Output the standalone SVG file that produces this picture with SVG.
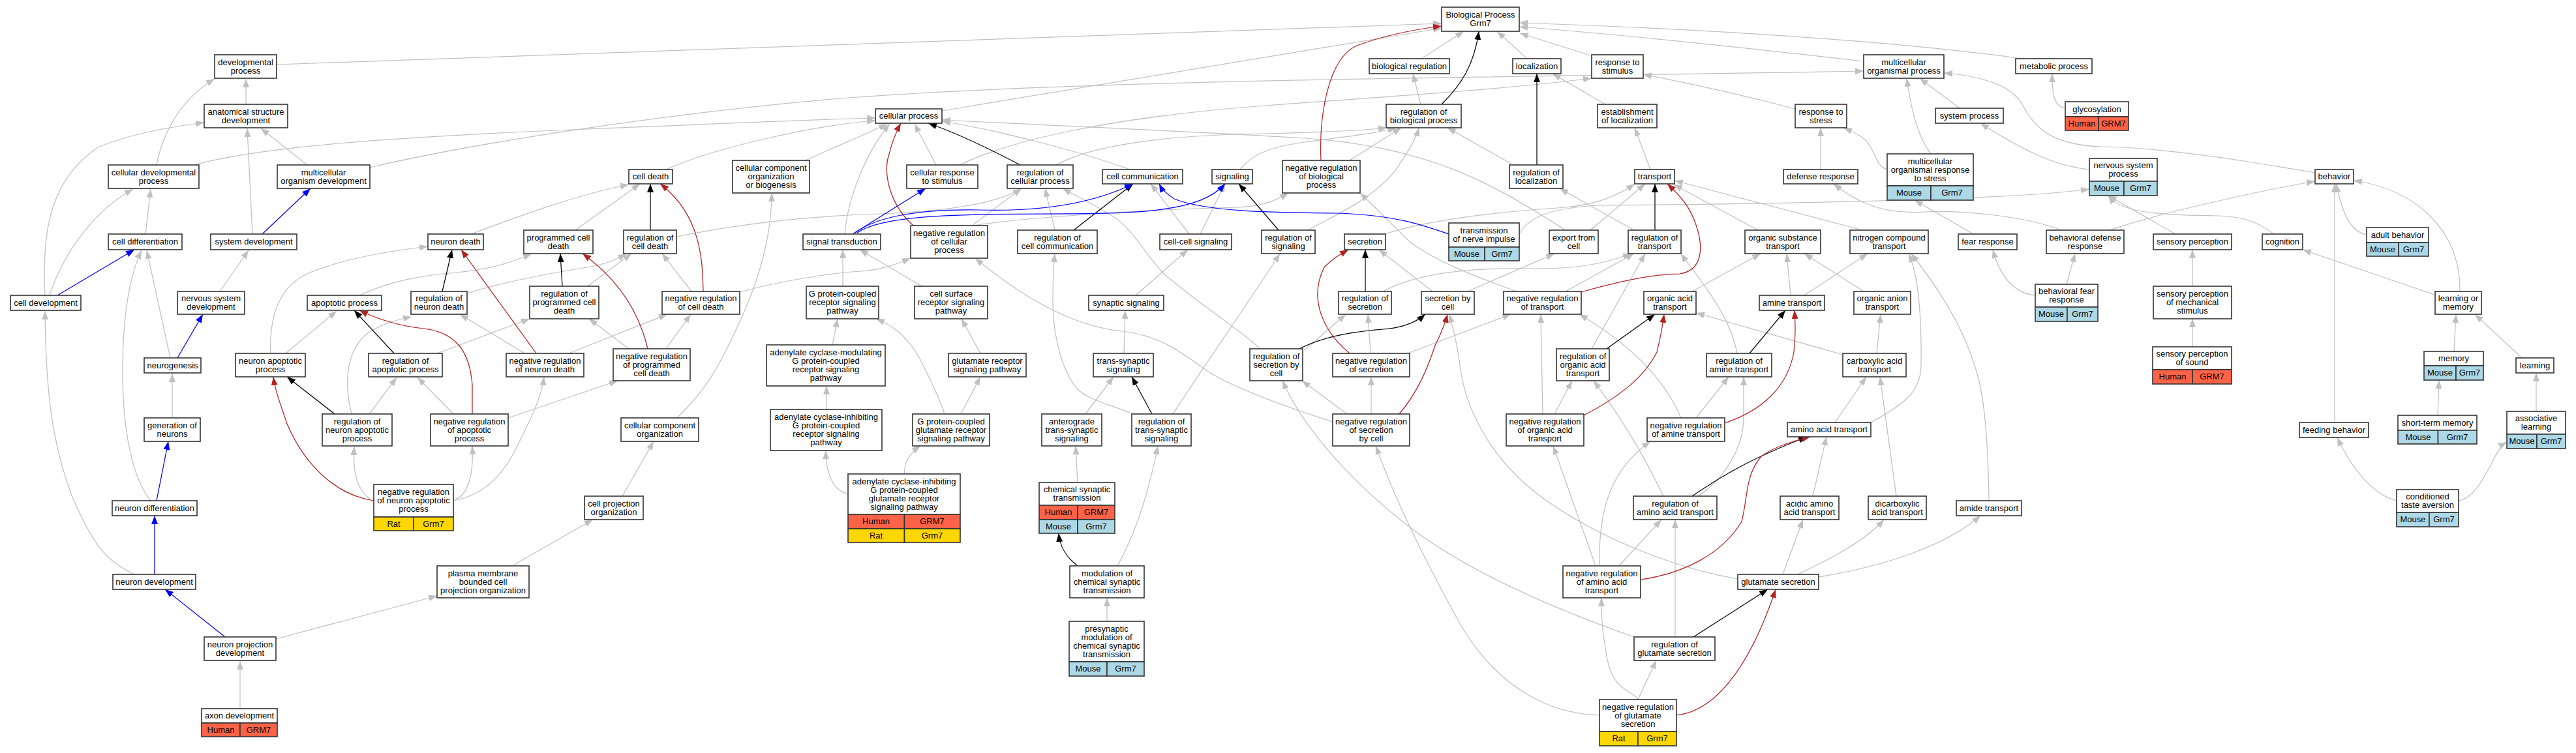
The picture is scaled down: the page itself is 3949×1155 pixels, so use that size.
<svg xmlns="http://www.w3.org/2000/svg" width="3949" height="1155" viewBox="0 0 3949 1155">
<defs>
<style>
.n rect{fill:#fff;stroke:#333;stroke-width:1.6}
.n rect.hu{fill:#ff6347}
.n rect.ra{fill:#ffd700}
.n rect.mo{fill:#add8e6}
text{font-family:"Liberation Sans",Arial,sans-serif;font-size:13px;text-anchor:middle;fill:#000}
.e{fill:none;stroke-width:1.25}
.g{stroke:#c0c0c0;marker-end:url(#ag)}
.k{stroke:#000;marker-end:url(#ak)}
.r{stroke:#b22222;marker-end:url(#ar)}
.b{stroke:#0000ff;marker-end:url(#ab)}
</style>
<marker id="ag" markerUnits="userSpaceOnUse" markerWidth="14" markerHeight="11" viewBox="0 0 14 11" refX="13" refY="5.5" orient="auto"><path d="M0,0.5 L13,5.5 L0,10.5 z" fill="#c0c0c0"/></marker>
<marker id="ak" markerUnits="userSpaceOnUse" markerWidth="14" markerHeight="11" viewBox="0 0 14 11" refX="13" refY="5.5" orient="auto"><path d="M0,0.5 L13,5.5 L0,10.5 z" fill="#000"/></marker>
<marker id="ar" markerUnits="userSpaceOnUse" markerWidth="14" markerHeight="11" viewBox="0 0 14 11" refX="13" refY="5.5" orient="auto"><path d="M0,0.5 L13,5.5 L0,10.5 z" fill="#b22222"/></marker>
<marker id="ab" markerUnits="userSpaceOnUse" markerWidth="14" markerHeight="11" viewBox="0 0 14 11" refX="13" refY="5.5" orient="auto"><path d="M0,0.5 L13,5.5 L0,10.5 z" fill="#0000ff"/></marker>
</defs>
<rect x="0" y="0" width="3949" height="1155" fill="#fff"/>
<g id="edges">
<path class="e g" d="M424,99 L2210,36"/>
<path class="e g" d="M1444,170 L2210,43"/>
<path class="e g" d="M2179,90 L2244,48"/>
<path class="e g" d="M2341,90 L2295,48"/>
<path class="e g" d="M2438,85 L2330,51"/>
<path class="e g" d="M3100,90 C2900,62 2600,44 2329,35"/>
<path class="e g" d="M2857,94 C2700,76 2500,54 2329,41"/>
<path class="e g" d="M2178,160 L2166,113"/>
<path class="e g" d="M2069,246 L2148,196"/>
<path class="e g" d="M2320,253 L2219,196"/>
<path class="e g" d="M2461,160 L2380,113"/>
<path class="e g" d="M2530,260 L2506,196"/>
<path class="e g" d="M2752,167 C2650,140 2560,122 2519,114"/>
<path class="e g" d="M567,257 C700,225 1000,175 1300,150 C1700,120 2400,118 2857,109"/>
<path class="e g" d="M297,253 C400,225 600,210 900,198 C1100,190 1250,183 1342,181"/>
<path class="e g" d="M1021,260 C1100,225 1250,192 1342,185"/>
<path class="e g" d="M1235,246 C1280,225 1330,205 1360,190"/>
<path class="e g" d="M1435,253 L1402,190"/>
<path class="e g" d="M1732,260 C1650,230 1520,198 1444,186"/>
<path class="e g" d="M1295,359 C1300,300 1330,230 1364,190"/>
<path class="e g" d="M2400,353 C2300,290 2200,225 2000,212 C1800,200 1600,192 1444,184"/>
<path class="e g" d="M240,253 C250,200 280,150 329,121"/>
<path class="e g" d="M377,160 L377,121"/>
<path class="e g" d="M471,253 L400,197"/>
<path class="e g" d="M387,359 L379,197"/>
<path class="e g" d="M223,359 L231,290"/>
<path class="e g" d="M76,453 C100,380 150,320 204,290"/>
<path class="e g" d="M69,453 C65,370 70,280 150,226 C200,205 260,195 313,188"/>
<path class="e g" d="M337,447 L381,384"/>
<path class="e g" d="M261,549 L225,384"/>
<path class="e g" d="M231,768 C200,730 188,650 188,570 C188,480 200,420 217,384"/>
<path class="e g" d="M264,641 L264,573"/>
<path class="e g" d="M206,881 C160,860 140,830 110,760 C80,680 70,600 69,477"/>
<path class="e g" d="M423,980 L670,914"/>
<path class="e g" d="M368,1087 L368,1014"/>
<path class="e g" d="M438,542 L516,477"/>
<path class="e g" d="M566,635 L608,579"/>
<path class="e g" d="M695,635 L640,579"/>
<path class="e g" d="M539,635 C530,600 525,540 565,510 C590,495 610,490 631,486"/>
<path class="e g" d="M568,766 C545,750 541,720 543,685"/>
<path class="e g" d="M415,542 C412,480 430,440 470,420 C530,395 600,385 656,378"/>
<path class="e g" d="M551,453 C600,430 650,422 700,418 C760,412 790,400 815,389"/>
<path class="e g" d="M716,450 C780,430 850,418 900,410 C930,405 945,398 960,389"/>
<path class="e g" d="M901,439 L968,389"/>
<path class="e g" d="M1060,447 L1015,389"/>
<path class="e g" d="M722,359 C800,330 880,300 964,283"/>
<path class="e g" d="M882,353 L981,282"/>
<path class="e g" d="M804,542 L705,482"/>
<path class="e g" d="M872,542 L1023,482"/>
<path class="e g" d="M964,535 L903,489"/>
<path class="e g" d="M1021,535 L1059,482"/>
<path class="e g" d="M670,542 L812,489"/>
<path class="e g" d="M779,641 L947,584"/>
<path class="e g" d="M695,768 C740,760 770,730 790,690 C815,640 830,610 834,578"/>
<path class="e g" d="M697,766 C720,760 726,720 724,684"/>
<path class="e g" d="M1038,641 C1080,600 1100,570 1140,480 C1175,400 1183,340 1183,296"/>
<path class="e g" d="M954,761 L1002,677"/>
<path class="e g" d="M785,868 L909,797"/>
<path class="e g" d="M1267,628 L1267,592"/>
<path class="e g" d="M1300,757 C1280,755 1266,730 1266,691"/>
<path class="e g" d="M1387,727 C1385,710 1395,695 1411,684"/>
<path class="e g" d="M1473,635 L1503,578"/>
<path class="e g" d="M1448,635 C1440,610 1425,580 1410,550 C1390,515 1370,500 1343,489"/>
<path class="e g" d="M1503,542 L1474,489"/>
<path class="e g" d="M1276,529 L1284,489"/>
<path class="e g" d="M1292,439 L1292,383"/>
<path class="e g" d="M1413,439 L1318,383"/>
<path class="e g" d="M1134,448 C1200,430 1280,418 1320,416 C1350,414 1370,407 1396,396"/>
<path class="e g" d="M1037,363 C1150,340 1250,331 1350,328 C1450,324 1530,312 1566,289"/>
<path class="e g" d="M1490,346 L1566,289"/>
<path class="e g" d="M1617,353 L1602,289"/>
<path class="e g" d="M1471,253 C1550,215 1700,180 1940,162 C2100,150 2300,138 2440,120"/>
<path class="e g" d="M1619,253 C1680,220 1800,207 1940,205 C2030,203 2090,200 2126,196"/>
<path class="e g" d="M1901,260 C1920,235 1950,225 2000,218 C2060,210 2110,205 2140,196"/>
<path class="e g" d="M2004,353 C2050,330 2110,300 2140,260 C2160,230 2170,215 2175,196"/>
<path class="e g" d="M1823,359 L1764,282"/>
<path class="e g" d="M1840,359 L1878,282"/>
<path class="e g" d="M1741,453 L1821,383"/>
<path class="e g" d="M1723,542 L1725,476"/>
<path class="e g" d="M1664,635 L1707,578"/>
<path class="e g" d="M1735,634 C1700,620 1665,612 1650,595 C1630,570 1614,520 1614,460 C1614,430 1615,410 1617,389"/>
<path class="e g" d="M1798,635 C1850,555 1930,440 1962,389"/>
<path class="e g" d="M1652,740 L1649,684"/>
<path class="e g" d="M1713,868 C1740,820 1760,760 1775,684"/>
<path class="e g" d="M1697,953 L1697,917"/>
<path class="e g" d="M2043,647 C1990,630 1900,600 1852,570 C1810,540 1780,515 1720,508 C1640,500 1560,450 1495,396"/>
<path class="e g" d="M1490,346 C1600,330 1800,320 1900,318 C1940,316 1960,305 1975,296"/>
<path class="e g" d="M2325,447 C2250,420 2200,400 2160,370 C2130,340 2110,320 2085,296"/>
<path class="e g" d="M2120,447 C2170,420 2250,410 2350,412 C2430,413 2470,400 2501,389"/>
<path class="e g" d="M2400,447 L2505,389"/>
<path class="e g" d="M2505,353 L2391,289"/>
<path class="e g" d="M2438,353 L2522,282"/>
<path class="e g" d="M2122,359 C2200,335 2300,325 2400,318 C2450,313 2480,300 2506,282"/>
<path class="e g" d="M2196,447 L2114,383"/>
<path class="e g" d="M2250,447 L2383,389"/>
<path class="e g" d="M2101,542 L2097,482"/>
<path class="e g" d="M2158,542 L2316,482"/>
<path class="e g" d="M2000,537 L2063,482"/>
<path class="e g" d="M2102,635 L2102,578"/>
<path class="e g" d="M2065,635 L1996,584"/>
<path class="e g" d="M2452,1097 C2380,1095 2300,1060 2240,960 C2190,870 2140,770 2109,684"/>
<path class="e g" d="M2505,977 C2400,940 2250,880 2150,800 C2050,720 1990,640 1966,584"/>
<path class="e g" d="M2664,888 C2560,870 2440,820 2360,760 C2280,700 2245,620 2238,560 C2233,520 2226,500 2222,482"/>
<path class="e g" d="M2383,635 L2410,584"/>
<path class="e g" d="M2365,635 L2362,482"/>
<path class="e g" d="M2577,641 C2560,600 2520,540 2421,482"/>
<path class="e g" d="M2600,641 L2650,578"/>
<path class="e g" d="M2440,535 L2522,389"/>
<path class="e g" d="M2550,761 C2530,720 2500,660 2443,584"/>
<path class="e g" d="M2603,761 C2650,730 2673,680 2673,640 C2673,610 2673,595 2673,578"/>
<path class="e g" d="M2446,868 L2381,684"/>
<path class="e g" d="M2452,868 C2450,780 2470,720 2530,677"/>
<path class="e g" d="M2482,868 L2547,797"/>
<path class="e g" d="M2511,1073 L2539,1013"/>
<path class="e g" d="M2511,1072 C2500,1058 2470,1060 2462,1000 C2455,960 2455,940 2455,917"/>
<path class="e g" d="M2568,977 L2568,797"/>
<path class="e g" d="M2663,542 C2655,500 2630,460 2600,420 C2590,407 2583,398 2577,389"/>
<path class="e g" d="M2594,447 L2699,389"/>
<path class="e g" d="M2745,453 L2739,389"/>
<path class="e g" d="M2766,453 L2863,389"/>
<path class="e g" d="M2857,447 L2766,389"/>
<path class="e g" d="M2877,542 L2883,482"/>
<path class="e g" d="M2825,544 L2600,480"/>
<path class="e g" d="M2813,648 L2861,578"/>
<path class="e g" d="M2868,648 C2920,620 2945,600 2945,560 C2946,480 2940,420 2926,389"/>
<path class="e g" d="M2907,761 L2882,578"/>
<path class="e g" d="M3049,768 C3048,700 3045,620 3030,570 C3010,500 2970,440 2930,389"/>
<path class="e g" d="M2779,761 L2800,670"/>
<path class="e g" d="M2733,881 L2764,797"/>
<path class="e g" d="M2756,881 C2800,860 2860,830 2888,797"/>
<path class="e g" d="M2788,885 C2880,870 2980,840 3036,791"/>
<path class="e g" d="M2695,353 L2566,283"/>
<path class="e g" d="M2855,353 L2567,277"/>
<path class="e g" d="M2893,260 C2875,255 2875,230 2860,215 C2850,206 2838,201 2826,196"/>
<path class="e g" d="M2960,236 C2940,210 2930,170 2923,120"/>
<path class="e g" d="M3004,166 L2943,120"/>
<path class="e g" d="M2791,260 L2791,196"/>
<path class="e g" d="M3025,359 L2935,307"/>
<path class="e g" d="M3160,353 C3100,330 3000,322 2950,325 C2880,330 2840,305 2811,282"/>
<path class="e g" d="M3120,453 C3085,450 3065,420 3055,383"/>
<path class="e g" d="M3168,436 L3181,389"/>
<path class="e g" d="M3166,166 C3150,163 3146,150 3146,113"/>
<path class="e g" d="M3203,260 C3150,255 3100,230 3036,189"/>
<path class="e g" d="M2329,359 C2340,340 2360,320 2450,315 C2800,312 3100,305 3203,290"/>
<path class="e g" d="M3549,265 C3450,248 3320,226 3220,225 C3150,222 3120,200 3100,160 C3080,125 3020,115 2980,112"/>
<path class="e g" d="M3335,359 L3232,300"/>
<path class="e g" d="M3486,359 C3460,340 3440,332 3400,331 C3300,330 3250,325 3232,300"/>
<path class="e g" d="M3732,452 L3530,383"/>
<path class="e g" d="M3771,447 C3772,350 3700,290 3608,277"/>
<path class="e g" d="M3628,360 C3600,355 3590,320 3581,282"/>
<path class="e g" d="M3234,353 C3300,330 3450,295 3549,278"/>
<path class="e g" d="M3579,648 L3579,282"/>
<path class="e g" d="M3762,539 L3765,482"/>
<path class="e g" d="M3866,549 L3794,482"/>
<path class="e g" d="M3737,637 L3739,583"/>
<path class="e g" d="M3888,631 L3888,572"/>
<path class="e g" d="M3769,768 C3790,765 3805,740 3825,700 C3832,688 3836,682 3843,678"/>
<path class="e g" d="M3674,768 C3640,760 3605,720 3583,671"/>
<path class="e g" d="M3361,532 L3361,489"/>
<path class="e g" d="M3361,439 L3361,383"/>
<path class="e g" d="M1932,535 C1900,505 1850,475 1790,425 C1760,400 1740,350 1700,328 C1670,310 1645,298 1629,289"/>
<path class="e k" d="M2210,160 C2240,130 2260,100 2267,48"/>
<path class="e k" d="M2356,253 L2356,113"/>
<path class="e k" d="M1564,253 C1520,230 1470,205 1423,189"/>
<path class="e k" d="M1646,353 L1737,282"/>
<path class="e k" d="M1960,353 L1899,282"/>
<path class="e k" d="M2537,353 L2537,282"/>
<path class="e k" d="M2093,447 L2093,383"/>
<path class="e k" d="M1992,535 C2030,515 2080,508 2120,505 C2150,503 2170,495 2185,482"/>
<path class="e k" d="M2463,535 L2537,482"/>
<path class="e k" d="M2682,542 L2737,476"/>
<path class="e k" d="M2594,761 C2640,730 2680,705 2770,670"/>
<path class="e k" d="M2596,977 L2710,904"/>
<path class="e k" d="M997,353 L997,282"/>
<path class="e k" d="M862,439 L859,389"/>
<path class="e k" d="M678,447 L693,383"/>
<path class="e k" d="M604,542 L543,476"/>
<path class="e k" d="M513,635 L440,578"/>
<path class="e k" d="M1766,635 L1735,578"/>
<path class="e k" d="M1652,868 C1635,855 1625,840 1623,818"/>
<path class="e r" d="M2025,246 C2022,180 2035,90 2080,70 C2120,55 2170,45 2210,40"/>
<path class="e r" d="M1400,346 C1360,310 1355,260 1362,240 C1368,215 1375,200 1381,189"/>
<path class="e r" d="M1078,447 C1077,400 1075,330 1012,282"/>
<path class="e r" d="M993,535 C980,480 950,430 893,389"/>
<path class="e r" d="M822,542 L707,383"/>
<path class="e r" d="M724,635 L724,590 C720,540 700,510 650,504 C610,500 580,490 551,476"/>
<path class="e r" d="M573,768 C520,760 470,720 440,650 C430,620 422,600 419,578"/>
<path class="e r" d="M2069,542 C2030,510 2005,460 2030,410 C2045,395 2055,390 2067,383"/>
<path class="e r" d="M2145,635 C2175,600 2190,560 2200,530 C2210,510 2215,497 2219,482"/>
<path class="e r" d="M2424,448 C2470,435 2530,420 2575,420 C2610,415 2612,380 2600,345 C2590,315 2575,300 2556,282"/>
<path class="e r" d="M2428,637 C2480,610 2520,580 2540,540 C2545,520 2548,505 2551,482"/>
<path class="e r" d="M2644,649 C2700,630 2740,595 2750,540 C2753,510 2752,495 2751,476"/>
<path class="e r" d="M2515,889 C2580,880 2640,850 2670,800 C2680,760 2675,730 2700,700 C2720,685 2750,676 2775,670"/>
<path class="e r" d="M2570,1097 C2640,1090 2690,1000 2722,904"/>
<path class="e b" d="M88,453 L206,383"/>
<path class="e b" d="M402,359 L476,289"/>
<path class="e b" d="M272,549 L311,482"/>
<path class="e b" d="M240,768 L258,677"/>
<path class="e b" d="M237,881 L237,791"/>
<path class="e b" d="M345,977 L253,904"/>
<path class="e b" d="M1307,359 L1419,289"/>
<path class="e b" d="M1311,357 C1340,335 1400,320 1500,322 C1600,325 1680,310 1737,282"/>
<path class="e b" d="M1314,357 C1350,332 1450,328 1600,328 C1750,328 1840,325 1878,282"/>
<path class="e b" d="M2221,359 C2180,345 2140,330 2050,327 C1950,326 1850,325 1800,305 C1790,298 1782,292 1777,282"/>
</g>
<g id="n-bp" class="n"><rect x="2210" y="11" width="119" height="37"/><text x="2269.5" y="27">Biological Process</text><text x="2269.5" y="40">Grm7</text></g>
<g id="n-devproc" class="n"><rect x="329" y="84" width="95" height="36"/><text x="376.5" y="99.5">developmental</text><text x="376.5" y="112.5">process</text></g>
<g id="n-asd" class="n"><rect x="313" y="160" width="128" height="36"/><text x="377" y="175.5">anatomical structure</text><text x="377" y="188.5">development</text></g>
<g id="n-cdp" class="n"><rect x="166" y="253" width="139" height="36"/><text x="235.5" y="268.5">cellular developmental</text><text x="235.5" y="281.5">process</text></g>
<g id="n-mod" class="n"><rect x="425" y="253" width="142" height="36"/><text x="496" y="268.5">multicellular</text><text x="496" y="281.5">organism development</text></g>
<g id="n-celldiff" class="n"><rect x="166" y="359" width="113" height="24"/><text x="222.5" y="375">cell differentiation</text></g>
<g id="n-sysdev" class="n"><rect x="323" y="359" width="132" height="24"/><text x="389" y="375">system development</text></g>
<g id="n-celldev" class="n"><rect x="16" y="453" width="108" height="23"/><text x="70" y="468.5">cell development</text></g>
<g id="n-nsd" class="n"><rect x="272" y="447" width="103" height="35"/><text x="323.5" y="462">nervous system</text><text x="323.5" y="475">development</text></g>
<g id="n-apop" class="n"><rect x="471" y="453" width="114" height="23"/><text x="528" y="468.5">apoptotic process</text></g>
<g id="n-regnd" class="n"><rect x="630" y="447" width="86" height="35"/><text x="673" y="462">regulation of</text><text x="673" y="475">neuron death</text></g>
<g id="n-neurogenesis" class="n"><rect x="221" y="549" width="87" height="23"/><text x="264.5" y="564.5">neurogenesis</text></g>
<g id="n-nap" class="n"><rect x="361" y="542" width="107" height="36"/><text x="414.5" y="557.5">neuron apoptotic</text><text x="414.5" y="570.5">process</text></g>
<g id="n-regap" class="n"><rect x="565" y="542" width="113" height="36"/><text x="621.5" y="557.5">regulation of</text><text x="621.5" y="570.5">apoptotic process</text></g>
<g id="n-genneur" class="n"><rect x="221" y="641" width="86" height="36"/><text x="264" y="656.5">generation of</text><text x="264" y="669.5">neurons</text></g>
<g id="n-regnap" class="n"><rect x="494" y="635" width="107" height="49"/><text x="547.5" y="650.5">regulation of</text><text x="547.5" y="663.5">neuron apoptotic</text><text x="547.5" y="676.5">process</text></g>
<g id="n-negregnap" class="n"><rect x="573" y="743" width="122" height="50"/><text x="634" y="759">negative regulation</text><text x="634" y="772">of neuron apoptotic</text><text x="634" y="785">process</text><rect class="ra" x="573" y="793" width="61" height="21"/><rect class="ra" x="634" y="793" width="61" height="21"/><text x="603.5" y="807.5">Rat</text><text x="664.5" y="807.5">Grm7</text></g>
<g id="n-neurdiff" class="n"><rect x="172" y="768" width="130" height="23"/><text x="237" y="783.5">neuron differentiation</text></g>
<g id="n-neurdev" class="n"><rect x="173" y="881" width="127" height="23"/><text x="236.5" y="896.5">neuron development</text></g>
<g id="n-npd" class="n"><rect x="313" y="977" width="110" height="36"/><text x="368" y="992.5">neuron projection</text><text x="368" y="1005.5">development</text></g>
<g id="n-axon" class="n"><rect x="309" y="1087" width="116" height="22"/><text x="367" y="1102">axon development</text><rect class="hu" x="309" y="1109" width="59" height="21"/><rect class="hu" x="368" y="1109" width="57" height="21"/><text x="338.5" y="1123.5">Human</text><text x="396.5" y="1123.5">GRM7</text></g>
<g id="n-celldeath" class="n"><rect x="964" y="260" width="67" height="22"/><text x="997.5" y="275">cell death</text></g>
<g id="n-ccob" class="n"><rect x="1123" y="246" width="118" height="50"/><text x="1182" y="262">cellular component</text><text x="1182" y="275">organization</text><text x="1182" y="288">or biogenesis</text></g>
<g id="n-neurdeath" class="n"><rect x="656" y="359" width="85" height="24"/><text x="698.5" y="375">neuron death</text></g>
<g id="n-pcd" class="n"><rect x="803" y="353" width="106" height="36"/><text x="856" y="368.5">programmed cell</text><text x="856" y="381.5">death</text></g>
<g id="n-regcd" class="n"><rect x="956" y="353" width="81" height="36"/><text x="996.5" y="368.5">regulation of</text><text x="996.5" y="381.5">cell death</text></g>
<g id="n-sigtrans" class="n"><rect x="1231" y="359" width="119" height="24"/><text x="1290.5" y="375">signal transduction</text></g>
<g id="n-regpcd" class="n"><rect x="812" y="439" width="106" height="50"/><text x="865" y="455">regulation of</text><text x="865" y="468">programmed cell</text><text x="865" y="481">death</text></g>
<g id="n-negregcd" class="n"><rect x="1015" y="447" width="119" height="35"/><text x="1074.5" y="462">negative regulation</text><text x="1074.5" y="475">of cell death</text></g>
<g id="n-gpcr" class="n"><rect x="1236" y="439" width="111" height="50"/><text x="1291.5" y="455">G protein-coupled</text><text x="1291.5" y="468">receptor signaling</text><text x="1291.5" y="481">pathway</text></g>
<g id="n-negregap" class="n"><rect x="660" y="635" width="119" height="49"/><text x="719.5" y="650.5">negative regulation</text><text x="719.5" y="663.5">of apoptotic</text><text x="719.5" y="676.5">process</text></g>
<g id="n-negregnd" class="n"><rect x="776" y="542" width="119" height="36"/><text x="835.5" y="557.5">negative regulation</text><text x="835.5" y="570.5">of neuron death</text></g>
<g id="n-negregpcd" class="n"><rect x="940" y="535" width="118" height="49"/><text x="999" y="550.5">negative regulation</text><text x="999" y="563.5">of programmed</text><text x="999" y="576.5">cell death</text></g>
<g id="n-acm" class="n"><rect x="1175" y="529" width="182" height="63"/><text x="1266" y="545">adenylate cyclase-modulating</text><text x="1266" y="558">G protein-coupled</text><text x="1266" y="571">receptor signaling</text><text x="1266" y="584">pathway</text></g>
<g id="n-cco" class="n"><rect x="952" y="641" width="119" height="36"/><text x="1011.5" y="656.5">cellular component</text><text x="1011.5" y="669.5">organization</text></g>
<g id="n-cpo" class="n"><rect x="896" y="761" width="90" height="36"/><text x="941" y="776.5">cell projection</text><text x="941" y="789.5">organization</text></g>
<g id="n-pmbcpo" class="n"><rect x="670" y="868" width="141" height="49"/><text x="740.5" y="883.5">plasma membrane</text><text x="740.5" y="896.5">bounded cell</text><text x="740.5" y="909.5">projection organization</text></g>
<g id="n-aci" class="n"><rect x="1181" y="628" width="171" height="63"/><text x="1266.5" y="644">adenylate cyclase-inhibiting</text><text x="1266.5" y="657">G protein-coupled</text><text x="1266.5" y="670">receptor signaling</text><text x="1266.5" y="683">pathway</text></g>
<g id="n-cellproc" class="n"><rect x="1342" y="167" width="102" height="22"/><text x="1393" y="182">cellular process</text></g>
<g id="n-crs" class="n"><rect x="1390" y="253" width="109" height="36"/><text x="1444.5" y="268.5">cellular response</text><text x="1444.5" y="281.5">to stimulus</text></g>
<g id="n-regcp" class="n"><rect x="1544" y="253" width="101" height="36"/><text x="1594.5" y="268.5">regulation of</text><text x="1594.5" y="281.5">cellular process</text></g>
<g id="n-cellcomm" class="n"><rect x="1690" y="260" width="123" height="22"/><text x="1751.5" y="275">cell communication</text></g>
<g id="n-signaling" class="n"><rect x="1858" y="260" width="62" height="22"/><text x="1889" y="275">signaling</text></g>
<g id="n-negregcp" class="n"><rect x="1396" y="346" width="118" height="50"/><text x="1455" y="362">negative regulation</text><text x="1455" y="375">of cellular</text><text x="1455" y="388">process</text></g>
<g id="n-regcc" class="n"><rect x="1560" y="353" width="122" height="36"/><text x="1621" y="368.5">regulation of</text><text x="1621" y="381.5">cell communication</text></g>
<g id="n-ccsig" class="n"><rect x="1778" y="359" width="110" height="24"/><text x="1833" y="375">cell-cell signaling</text></g>
<g id="n-regsig" class="n"><rect x="1934" y="353" width="82" height="36"/><text x="1975" y="368.5">regulation of</text><text x="1975" y="381.5">signaling</text></g>
<g id="n-csrsp" class="n"><rect x="1402" y="439" width="112" height="50"/><text x="1458" y="455">cell surface</text><text x="1458" y="468">receptor signaling</text><text x="1458" y="481">pathway</text></g>
<g id="n-synsig" class="n"><rect x="1669" y="453" width="115" height="23"/><text x="1726.5" y="468.5">synaptic signaling</text></g>
<g id="n-glursp" class="n"><rect x="1454" y="542" width="119" height="36"/><text x="1513.5" y="557.5">glutamate receptor</text><text x="1513.5" y="570.5">signaling pathway</text></g>
<g id="n-transsyn" class="n"><rect x="1676" y="542" width="92" height="36"/><text x="1722" y="557.5">trans-synaptic</text><text x="1722" y="570.5">signaling</text></g>
<g id="n-regsbc" class="n"><rect x="1916" y="535" width="81" height="49"/><text x="1956.5" y="550.5">regulation of</text><text x="1956.5" y="563.5">secretion by</text><text x="1956.5" y="576.5">cell</text></g>
<g id="n-aciglu" class="n"><rect x="1300" y="727" width="172" height="62"/><text x="1386" y="742.5">adenylate cyclase-inhibiting</text><text x="1386" y="755.5">G protein-coupled</text><text x="1386" y="768.5">glutamate receptor</text><text x="1386" y="781.5">signaling pathway</text><rect class="hu" x="1300" y="789" width="86.5" height="22"/><rect class="hu" x="1386.5" y="789" width="85.5" height="22"/><text x="1343" y="804">Human</text><text x="1429" y="804">GRM7</text><rect class="ra" x="1300" y="811" width="86.5" height="21"/><rect class="ra" x="1386.5" y="811" width="85.5" height="21"/><text x="1343" y="825.5">Rat</text><text x="1429" y="825.5">Grm7</text></g>
<g id="n-gpcglu" class="n"><rect x="1399" y="635" width="118" height="49"/><text x="1458" y="650.5">G protein-coupled</text><text x="1458" y="663.5">glutamate receptor</text><text x="1458" y="676.5">signaling pathway</text></g>
<g id="n-antero" class="n"><rect x="1597" y="635" width="92" height="49"/><text x="1643" y="650.5">anterograde</text><text x="1643" y="663.5">trans-synaptic</text><text x="1643" y="676.5">signaling</text></g>
<g id="n-regtss" class="n"><rect x="1735" y="635" width="91" height="49"/><text x="1780.5" y="650.5">regulation of</text><text x="1780.5" y="663.5">trans-synaptic</text><text x="1780.5" y="676.5">signaling</text></g>
<g id="n-cst" class="n"><rect x="1593" y="740" width="116" height="35"/><text x="1651" y="755">chemical synaptic</text><text x="1651" y="768">transmission</text><rect class="hu" x="1593" y="775" width="59" height="22"/><rect class="hu" x="1652" y="775" width="57" height="22"/><text x="1622.5" y="790">Human</text><text x="1680.5" y="790">GRM7</text><rect class="mo" x="1593" y="797" width="59" height="21"/><rect class="mo" x="1652" y="797" width="57" height="21"/><text x="1622.5" y="811.5">Mouse</text><text x="1680.5" y="811.5">Grm7</text></g>
<g id="n-modcst" class="n"><rect x="1640" y="868" width="114" height="49"/><text x="1697" y="883.5">modulation of</text><text x="1697" y="896.5">chemical synaptic</text><text x="1697" y="909.5">transmission</text></g>
<g id="n-presyn" class="n"><rect x="1639" y="953" width="115" height="62"/><text x="1696.5" y="968.5">presynaptic</text><text x="1696.5" y="981.5">modulation of</text><text x="1696.5" y="994.5">chemical synaptic</text><text x="1696.5" y="1007.5">transmission</text><rect class="mo" x="1639" y="1015" width="58" height="22"/><rect class="mo" x="1697" y="1015" width="57" height="22"/><text x="1668" y="1030">Mouse</text><text x="1725.5" y="1030">Grm7</text></g>
<g id="n-bioreg" class="n"><rect x="2099" y="90" width="123" height="23"/><text x="2160.5" y="105.5">biological regulation</text></g>
<g id="n-localization" class="n"><rect x="2319" y="90" width="74" height="23"/><text x="2356" y="105.5">localization</text></g>
<g id="n-rts" class="n"><rect x="2440" y="84" width="79" height="36"/><text x="2479.5" y="99.5">response to</text><text x="2479.5" y="112.5">stimulus</text></g>
<g id="n-regbp" class="n"><rect x="2125" y="160" width="115" height="36"/><text x="2182.5" y="175.5">regulation of</text><text x="2182.5" y="188.5">biological process</text></g>
<g id="n-estloc" class="n"><rect x="2449" y="160" width="91" height="36"/><text x="2494.5" y="175.5">establishment</text><text x="2494.5" y="188.5">of localization</text></g>
<g id="n-negregbp" class="n"><rect x="1966" y="246" width="119" height="50"/><text x="2025.5" y="262">negative regulation</text><text x="2025.5" y="275">of biological</text><text x="2025.5" y="288">process</text></g>
<g id="n-regloc" class="n"><rect x="2314" y="253" width="82" height="36"/><text x="2355" y="268.5">regulation of</text><text x="2355" y="281.5">localization</text></g>
<g id="n-transport" class="n"><rect x="2506" y="260" width="61" height="22"/><text x="2536.5" y="275">transport</text></g>
<g id="n-secretion" class="n"><rect x="2061" y="359" width="63" height="24"/><text x="2092.5" y="375">secretion</text></g>
<g id="n-tni" class="n"><rect x="2221" y="342" width="108" height="37"/><text x="2275" y="358">transmission</text><text x="2275" y="371">of nerve impulse</text><rect class="mo" x="2221" y="379" width="55" height="21"/><rect class="mo" x="2276" y="379" width="53" height="21"/><text x="2248.5" y="393.5">Mouse</text><text x="2302.5" y="393.5">Grm7</text></g>
<g id="n-export" class="n"><rect x="2375" y="353" width="75" height="36"/><text x="2412.5" y="368.5">export from</text><text x="2412.5" y="381.5">cell</text></g>
<g id="n-regtr" class="n"><rect x="2496" y="353" width="81" height="36"/><text x="2536.5" y="368.5">regulation of</text><text x="2536.5" y="381.5">transport</text></g>
<g id="n-regsec" class="n"><rect x="2052" y="447" width="81" height="35"/><text x="2092.5" y="462">regulation of</text><text x="2092.5" y="475">secretion</text></g>
<g id="n-sbc" class="n"><rect x="2179" y="447" width="81" height="35"/><text x="2219.5" y="462">secretion by</text><text x="2219.5" y="475">cell</text></g>
<g id="n-negregtr" class="n"><rect x="2305" y="447" width="119" height="35"/><text x="2364.5" y="462">negative regulation</text><text x="2364.5" y="475">of transport</text></g>
<g id="n-oat" class="n"><rect x="2520" y="447" width="80" height="35"/><text x="2560" y="462">organic acid</text><text x="2560" y="475">transport</text></g>
<g id="n-negregsec" class="n"><rect x="2043" y="542" width="118" height="36"/><text x="2102" y="557.5">negative regulation</text><text x="2102" y="570.5">of secretion</text></g>
<g id="n-regoat" class="n"><rect x="2386" y="535" width="81" height="49"/><text x="2426.5" y="550.5">regulation of</text><text x="2426.5" y="563.5">organic acid</text><text x="2426.5" y="576.5">transport</text></g>
<g id="n-negregsbc" class="n"><rect x="2043" y="635" width="118" height="49"/><text x="2102" y="650.5">negative regulation</text><text x="2102" y="663.5">of secretion</text><text x="2102" y="676.5">by cell</text></g>
<g id="n-negregoat" class="n"><rect x="2309" y="635" width="119" height="49"/><text x="2368.5" y="650.5">negative regulation</text><text x="2368.5" y="663.5">of organic acid</text><text x="2368.5" y="676.5">transport</text></g>
<g id="n-negregamt" class="n"><rect x="2525" y="641" width="119" height="36"/><text x="2584.5" y="656.5">negative regulation</text><text x="2584.5" y="669.5">of amine transport</text></g>
<g id="n-regaat" class="n"><rect x="2504" y="761" width="128" height="36"/><text x="2568" y="776.5">regulation of</text><text x="2568" y="789.5">amino acid transport</text></g>
<g id="n-negregaat" class="n"><rect x="2396" y="868" width="119" height="49"/><text x="2455.5" y="883.5">negative regulation</text><text x="2455.5" y="896.5">of amino acid</text><text x="2455.5" y="909.5">transport</text></g>
<g id="n-reggs" class="n"><rect x="2505" y="977" width="124" height="36"/><text x="2567" y="992.5">regulation of</text><text x="2567" y="1005.5">glutamate secretion</text></g>
<g id="n-negreggs" class="n"><rect x="2452" y="1073" width="118" height="49"/><text x="2511" y="1088.5">negative regulation</text><text x="2511" y="1101.5">of glutamate</text><text x="2511" y="1114.5">secretion</text><rect class="ra" x="2452" y="1122" width="59" height="22"/><rect class="ra" x="2511" y="1122" width="59" height="22"/><text x="2481.5" y="1137">Rat</text><text x="2540.5" y="1137">Grm7</text></g>
<g id="n-mop" class="n"><rect x="2857" y="84" width="123" height="36"/><text x="2918.5" y="99.5">multicellular</text><text x="2918.5" y="112.5">organismal process</text></g>
<g id="n-metab" class="n"><rect x="3090" y="90" width="117" height="23"/><text x="3148.5" y="105.5">metabolic process</text></g>
<g id="n-rtstress" class="n"><rect x="2752" y="160" width="79" height="36"/><text x="2791.5" y="175.5">response to</text><text x="2791.5" y="188.5">stress</text></g>
<g id="n-sysproc" class="n"><rect x="2967" y="166" width="104" height="23"/><text x="3019" y="181.5">system process</text></g>
<g id="n-glyco" class="n"><rect x="3166" y="156" width="97" height="23"/><text x="3214.5" y="171.5">glycosylation</text><rect class="hu" x="3166" y="179" width="51" height="21"/><rect class="hu" x="3217" y="179" width="46" height="21"/><text x="3191.5" y="193.5">Human</text><text x="3240" y="193.5">GRM7</text></g>
<g id="n-defresp" class="n"><rect x="2734" y="260" width="114" height="22"/><text x="2791" y="275">defense response</text></g>
<g id="n-mors" class="n"><rect x="2893" y="236" width="132" height="49"/><text x="2959" y="251.5">multicellular</text><text x="2959" y="264.5">organismal response</text><text x="2959" y="277.5">to stress</text><rect class="mo" x="2893" y="285" width="67" height="22"/><rect class="mo" x="2960" y="285" width="65" height="22"/><text x="2926.5" y="300">Mouse</text><text x="2992.5" y="300">Grm7</text></g>
<g id="n-nsp" class="n"><rect x="3203" y="243" width="104" height="35"/><text x="3255" y="258">nervous system</text><text x="3255" y="271">process</text><rect class="mo" x="3203" y="278" width="53" height="22"/><rect class="mo" x="3256" y="278" width="51" height="22"/><text x="3229.5" y="293">Mouse</text><text x="3281.5" y="293">Grm7</text></g>
<g id="n-ost" class="n"><rect x="2675" y="353" width="116" height="36"/><text x="2733" y="368.5">organic substance</text><text x="2733" y="381.5">transport</text></g>
<g id="n-nct" class="n"><rect x="2836" y="353" width="120" height="36"/><text x="2896" y="368.5">nitrogen compound</text><text x="2896" y="381.5">transport</text></g>
<g id="n-fear" class="n"><rect x="3002" y="359" width="90" height="24"/><text x="3047" y="375">fear response</text></g>
<g id="n-bdr" class="n"><rect x="3137" y="353" width="119" height="36"/><text x="3196.5" y="368.5">behavioral defense</text><text x="3196.5" y="381.5">response</text></g>
<g id="n-amine" class="n"><rect x="2697" y="453" width="100" height="23"/><text x="2747" y="468.5">amine transport</text></g>
<g id="n-oant" class="n"><rect x="2842" y="447" width="87" height="35"/><text x="2885.5" y="462">organic anion</text><text x="2885.5" y="475">transport</text></g>
<g id="n-bfr" class="n"><rect x="3120" y="436" width="96" height="35"/><text x="3168" y="451">behavioral fear</text><text x="3168" y="464">response</text><rect class="mo" x="3120" y="471" width="49" height="22"/><rect class="mo" x="3169" y="471" width="47" height="22"/><text x="3144.5" y="486">Mouse</text><text x="3192.5" y="486">Grm7</text></g>
<g id="n-regamt" class="n"><rect x="2616" y="542" width="100" height="36"/><text x="2666" y="557.5">regulation of</text><text x="2666" y="570.5">amine transport</text></g>
<g id="n-cat" class="n"><rect x="2825" y="542" width="97" height="36"/><text x="2873.5" y="557.5">carboxylic acid</text><text x="2873.5" y="570.5">transport</text></g>
<g id="n-aat" class="n"><rect x="2740" y="648" width="128" height="22"/><text x="2804" y="663">amino acid transport</text></g>
<g id="n-aaat" class="n"><rect x="2729" y="761" width="90" height="36"/><text x="2774" y="776.5">acidic amino</text><text x="2774" y="789.5">acid transport</text></g>
<g id="n-dcat" class="n"><rect x="2864" y="761" width="89" height="36"/><text x="2908.5" y="776.5">dicarboxylic</text><text x="2908.5" y="789.5">acid transport</text></g>
<g id="n-amide" class="n"><rect x="2999" y="768" width="100" height="23"/><text x="3049" y="783.5">amide transport</text></g>
<g id="n-glusec" class="n"><rect x="2664" y="881" width="124" height="23"/><text x="2726" y="896.5">glutamate secretion</text></g>
<g id="n-behavior" class="n"><rect x="3549" y="260" width="59" height="22"/><text x="3578.5" y="275">behavior</text></g>
<g id="n-sensperc" class="n"><rect x="3301" y="359" width="120" height="24"/><text x="3361" y="375">sensory perception</text></g>
<g id="n-cognition" class="n"><rect x="3468" y="359" width="62" height="24"/><text x="3499" y="375">cognition</text></g>
<g id="n-adult" class="n"><rect x="3628" y="349" width="95" height="23"/><text x="3675.5" y="364.5">adult behavior</text><rect class="mo" x="3628" y="372" width="49" height="21"/><rect class="mo" x="3677" y="372" width="46" height="21"/><text x="3652.5" y="386.5">Mouse</text><text x="3700" y="386.5">Grm7</text></g>
<g id="n-spms" class="n"><rect x="3301" y="439" width="120" height="50"/><text x="3361" y="455">sensory perception</text><text x="3361" y="468">of mechanical</text><text x="3361" y="481">stimulus</text></g>
<g id="n-lom" class="n"><rect x="3733" y="447" width="71" height="35"/><text x="3768.5" y="462">learning or</text><text x="3768.5" y="475">memory</text></g>
<g id="n-sps" class="n"><rect x="3300" y="532" width="121" height="35"/><text x="3360.5" y="547">sensory perception</text><text x="3360.5" y="560">of sound</text><rect class="hu" x="3300" y="567" width="61" height="22"/><rect class="hu" x="3361" y="567" width="60" height="22"/><text x="3330.5" y="582">Human</text><text x="3391" y="582">GRM7</text></g>
<g id="n-memory" class="n"><rect x="3716" y="539" width="91" height="22"/><text x="3761.5" y="554">memory</text><rect class="mo" x="3716" y="561" width="49" height="22"/><rect class="mo" x="3765" y="561" width="42" height="22"/><text x="3740.5" y="576">Mouse</text><text x="3786" y="576">Grm7</text></g>
<g id="n-learning" class="n"><rect x="3857" y="549" width="58" height="23"/><text x="3886" y="564.5">learning</text></g>
<g id="n-stm" class="n"><rect x="3676" y="637" width="121" height="23"/><text x="3736.5" y="652.5">short-term memory</text><rect class="mo" x="3676" y="660" width="61.5" height="21"/><rect class="mo" x="3737.5" y="660" width="59.5" height="21"/><text x="3707" y="674.5">Mouse</text><text x="3767" y="674.5">Grm7</text></g>
<g id="n-feeding" class="n"><rect x="3525" y="648" width="106" height="23"/><text x="3578" y="663.5">feeding behavior</text></g>
<g id="n-assoc" class="n"><rect x="3843" y="631" width="90" height="35"/><text x="3888" y="646">associative</text><text x="3888" y="659">learning</text><rect class="mo" x="3843" y="666" width="46" height="22"/><rect class="mo" x="3889" y="666" width="44" height="22"/><text x="3866" y="681">Mouse</text><text x="3911" y="681">Grm7</text></g>
<g id="n-cta" class="n"><rect x="3674" y="751" width="95" height="35"/><text x="3721.5" y="766">conditioned</text><text x="3721.5" y="779">taste aversion</text><rect class="mo" x="3674" y="786" width="50" height="22"/><rect class="mo" x="3724" y="786" width="45" height="22"/><text x="3699" y="801">Mouse</text><text x="3746.5" y="801">Grm7</text></g>
</svg>
